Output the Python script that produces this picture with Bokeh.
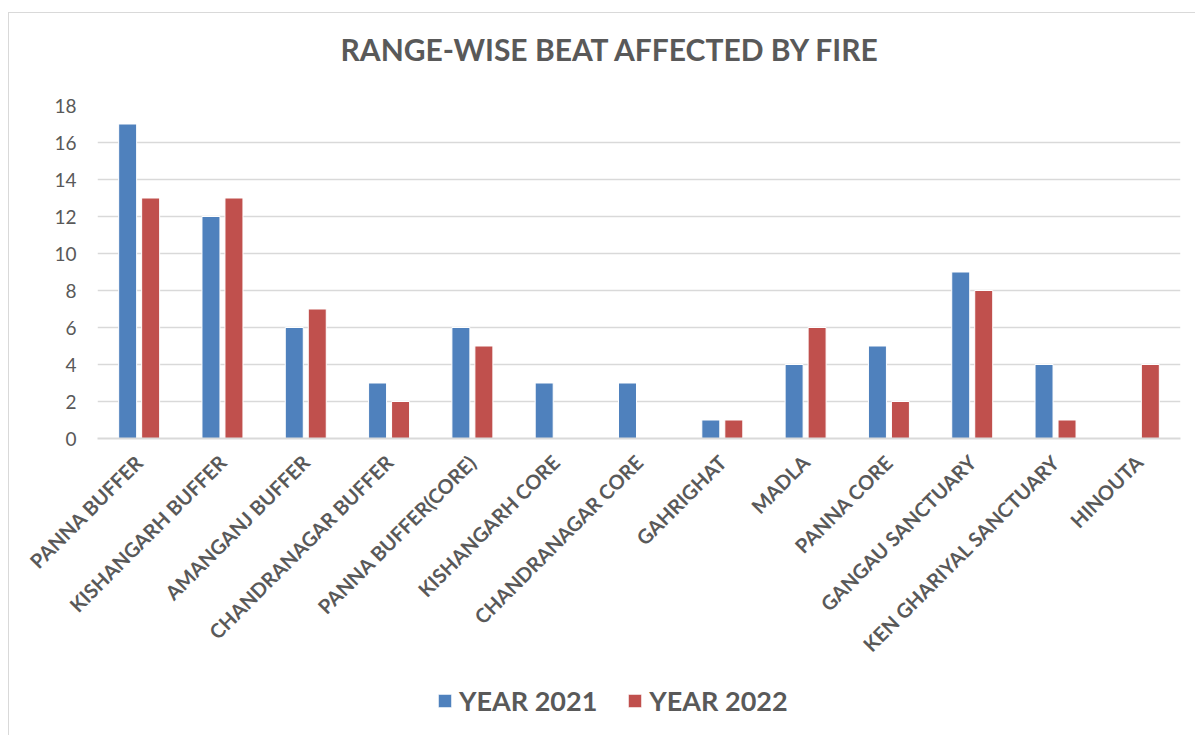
import math
from bokeh.plotting import figure
from bokeh.layouts import column
from bokeh.models import (FactorRange, Range1d, FixedTicker, ColumnDataSource,
                          Legend, LegendItem, Label)
from bokeh.transform import dodge
from bokeh.embed import file_html
from bokeh.resources import INLINE

categories = ["PANNA BUFFER", "KISHANGARH BUFFER", "AMANGANJ BUFFER", "CHANDRANAGAR BUFFER",
              "PANNA BUFFER(CORE)", "KISHANGARH CORE", "CHANDRANAGAR CORE", "GAHRIGHAT",
              "MADLA", "PANNA CORE", "GANGAU SANCTUARY", "KEN GHARIYAL SANCTUARY", "HINOUTA"]
year_2021 = [17, 12, 6, 3, 6, 3, 3, 1, 4, 5, 9, 4, 0]
year_2022 = [13, 13, 7, 2, 5, 0, 0, 1, 6, 2, 8, 1, 4]
y_ticks = [0, 2, 4, 6, 8, 10, 12, 14, 16, 18]
series_names = ["YEAR 2021", "YEAR 2022"]
title_text = "RANGE-WISE BEAT AFFECTED BY FIRE"

BLUE = "#4F81BD"
RED = "#C0504D"
GREY = "#595959"
GRID = "#d9d9d9"
FONT = "Lato"
W = 1186

# ---- title strip ----
tf = figure(width=W, height=80, x_range=Range1d(0, W), y_range=Range1d(0, 80),
            output_backend="svg", toolbar_location=None, x_axis_type=None, y_axis_type=None,
            min_border=0, min_border_left=0, min_border_right=0, min_border_top=0,
            min_border_bottom=0)
tf.outline_line_color = None
tf.xgrid.grid_line_color = None
tf.ygrid.grid_line_color = None
tf.add_layout(Label(x=562, y=45, text=title_text, text_align="center", text_baseline="middle",
                    text_font=FONT, text_font_style="bold", text_font_size="30px",
                    text_color=GREY))

# ---- main chart ----
source = ColumnDataSource(dict(cat=categories, y21=year_2021, y22=year_2022))

p = figure(width=W, height=582, x_range=FactorRange(factors=categories, range_padding=0),
           y_range=Range1d(0, 18), output_backend="svg", toolbar_location=None,
           min_border_left=88, min_border_right=15, min_border_top=12, min_border_bottom=237)
p.outline_line_color = None
p.background_fill_color = "white"
p.border_fill_color = "white"

p.vbar(x=dodge("cat", -0.138, range=p.x_range), top="y21", width=0.216, source=source,
       fill_color=BLUE, line_color="white", line_width=1)
p.vbar(x=dodge("cat", 0.138, range=p.x_range), top="y22", width=0.216, source=source,
       fill_color=RED, line_color="white", line_width=1)

p.yaxis.ticker = FixedTicker(ticks=y_ticks)
p.yaxis.axis_line_color = None
p.yaxis.major_tick_line_color = None
p.yaxis.minor_tick_line_color = None
p.yaxis.major_label_standoff = 15
p.yaxis.major_label_text_font = FONT
p.yaxis.major_label_text_font_size = "19px"
p.yaxis.major_label_text_color = GREY

p.xaxis.axis_line_color = GRID
p.xaxis.axis_line_width = 2
p.xaxis.major_tick_line_color = None
p.xaxis.minor_tick_line_color = None
p.xaxis.major_label_orientation = math.pi / 4
p.xaxis.major_label_standoff = 14
p.xaxis.major_label_text_font = FONT
p.xaxis.major_label_text_font_style = "bold"
p.xaxis.major_label_text_font_size = "20px"
p.xaxis.major_label_text_color = GREY

p.xgrid.grid_line_color = None
p.ygrid.grid_line_color = GRID
p.ygrid.grid_line_width = 1.5

# ---- legend strip ----
lf = figure(width=W, height=60, x_range=Range1d(0, 1), y_range=Range1d(0, 1),
            output_backend="svg", toolbar_location=None, x_axis_type=None, y_axis_type=None,
            min_border=0)
lf.outline_line_color = None
lf.xgrid.grid_line_color = None
lf.ygrid.grid_line_color = None
dummy = ColumnDataSource(dict(x=[-5], top=[0]))
l1 = lf.vbar(x="x", top="top", width=0.1, source=dummy, fill_color=BLUE, line_color="white")
l2 = lf.vbar(x="x", top="top", width=0.1, source=dummy, fill_color=RED, line_color="white")
legend = Legend(items=[LegendItem(label=series_names[0], renderers=[l1]),
                       LegendItem(label=series_names[1], renderers=[l2])],
                orientation="horizontal", location=(339, 18),
                glyph_width=17, glyph_height=17, label_text_font=FONT,
                label_text_font_style="bold", label_text_font_size="27px",
                label_text_color=GREY, spacing=29, label_standoff=6,
                border_line_color=None, background_fill_alpha=0, padding=0, margin=0)
lf.add_layout(legend, "center")

layout = column(tf, p, lf, spacing=0, margin=(12, 0, 0, 8),
                styles={"border-top": "1px solid #d9d9d9", "border-left": "1px solid #d9d9d9"})

open("out.html", "w").write(file_html(layout, INLINE))
